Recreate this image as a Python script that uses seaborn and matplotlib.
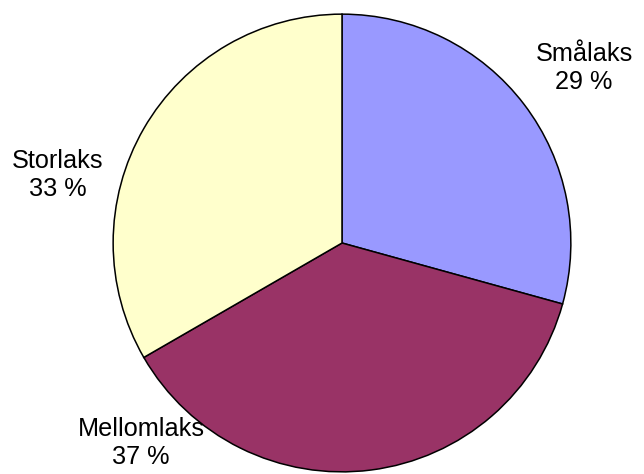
import matplotlib
matplotlib.use('Agg')
import matplotlib.pyplot as plt
import seaborn as sns

# Data
categories = ['Smålaks', 'Mellomlaks', 'Storlaks']
shares = [29, 37, 33]
pct_labels = ['29 %', '37 %', '33 %']
colors = ['#9999FF', '#993366', '#FFFFCC']

sns.set_style('white')
plt.rcParams['font.family'] = ['Liberation Sans', 'DejaVu Sans']

fig = plt.figure(figsize=(6.44, 4.74), dpi=100)
# pie centre at about (342, 243) px, radius about 230 px
ax = fig.add_axes([112 / 644, 1 / 474, 460 / 644, 460 / 474])
ax.pie(shares, colors=sns.color_palette(colors), startangle=90, counterclock=False,
       radius=1, wedgeprops=dict(edgecolor='black', linewidth=1.1))
ax.set_xlim(-1.005, 1.005)
ax.set_ylim(-1.005, 1.005)
ax.set_aspect('equal')
ax.axis('off')

# label positions in pixels (x, y from top)
label_pos = [(584, 68), (141, 443), (58, 175)]
for name, pct, (px, py) in zip(categories, pct_labels, label_pos):
    fig.text(px / 644, 1 - py / 474, name + '\n' + pct, ha='center', va='center',
             fontsize=18.2, linespacing=1.2, color='black')

fig.savefig('out.png', dpi=100)
